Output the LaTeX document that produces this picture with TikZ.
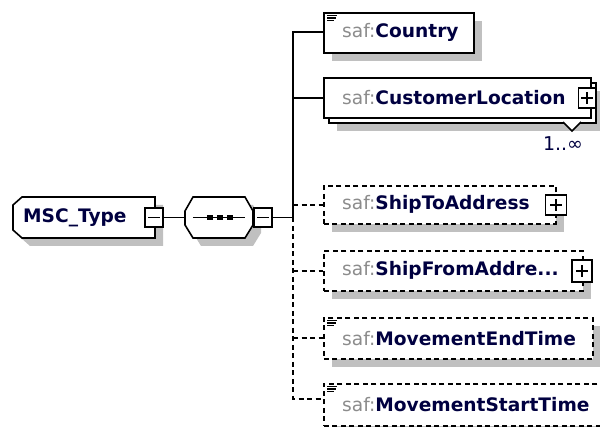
\documentclass[tikz,border=0pt]{standalone}
\usepackage{fontspec}
\setmainfont{DejaVu Sans}
\usetikzlibrary{shadows,calc}
\definecolor{safcol}{RGB}{140,140,140}
\definecolor{namecol}{RGB}{0,0,64}
\definecolor{shadowcol}{RGB}{192,192,192}
\newcommand\eltext[1]{\textcolor{safcol}{saf:}\textcolor{namecol}{\bfseries #1}}
\begin{document}
\begin{tikzpicture}[x=1pt,y=-1pt,
  lw/.style={line width=1.6pt},
  shd/.style={drop shadow={shadow xshift=8pt,shadow yshift=-8pt,fill=shadowcol,opacity=1}},
  elembox/.style={lw,draw=black,fill=white,rectangle,inner sep=0pt,anchor=north west},
  optbox/.style={elembox,dash pattern=on 5pt off 3.5pt},
  lbl/.style={anchor=west,inner sep=0pt,font=\fontsize{18.6}{21}\selectfont},
  pmbox/.style={lw,draw=black,fill=white,rectangle,inner sep=0pt,minimum width=18pt,minimum height=20pt},
  plusbox/.style={pmbox,path picture={\draw[lw] ([xshift=-6pt]path picture bounding box.center) -- ([xshift=6pt]path picture bounding box.center) ([yshift=-6pt]path picture bounding box.center) -- ([yshift=6pt]path picture bounding box.center);}},
  minusbox/.style={pmbox,minimum height=19pt,path picture={\draw[lw] ([xshift=-6pt]path picture bounding box.center) -- ([xshift=6pt]path picture bounding box.center);}},
  conn/.style={lw,draw=black},
  dconn/.style={conn,dash pattern=on 5pt off 3.5pt},
  icon/.style={line width=1.3pt}
]
\useasboundingbox (0,0) rectangle (600,427);
\clip (0,0) rectangle (600,427);

% MSC_Type
\path[lw,draw=black,fill=white,shd] (22,197) -- (155,197) -- (155,238) -- (22,238) -- (13,230) -- (13,205) -- cycle;
\node[lbl] (msc) at (23,217.5) {\textcolor{namecol}{\bfseries MSC\_Type}};
\node[minusbox] (mscm) at (154,217.5) {};

% sequence
\path[lw,draw=black,fill=white,shd] (193,197) -- (245,197) -- (253,211) -- (253,225) -- (245,238) -- (193,238) -- (185,225) -- (185,211) -- cycle;
\node[inner sep=0pt,minimum width=68pt,minimum height=41pt] (seq) at (219,217.5) {};
\draw[lw] ($(seq.west)+(8,0)$) -- ($(seq.east)+(-8,0)$);
\foreach \cx in {210,220,230} \fill (\cx-3,215) rectangle (\cx+3,220.5);
\node[minusbox] (seqm) at (263,217.5) {};

\draw[conn] (mscm.east) -- (seq.west);
\coordinate (trunk) at (293,217.5);
\draw[conn] (seqm.east) -- (trunk);

% Country
\node[elembox,minimum width=150pt,minimum height=40pt,shd] (country) at (323,12) {};
\node[lbl] (countryt) at ($(country.west)+(19,0)$) {\eltext{Country}};
\draw[icon] ($(country.north west)+(4,3.5)$) -- ++(10,0) ($(country.north west)+(4,6)$) -- ++(9,0) ($(country.north west)+(4,8.5)$) -- ++(7,0);

% CustomerLocation
\node[elembox,minimum width=267pt,minimum height=40pt,shd] (custb) at (328,82) {};
\node[elembox,minimum width=267pt,minimum height=40pt] (cust) at (323,77) {};
\node[lbl] (custt) at ($(cust.west)+(19,0)$) {\eltext{CustomerLocation}};
\node[plusbox,minimum width=17pt] (custp) at (587,98) {};
\path[lw,draw=black,fill=white] (563,122) -- (572,131) -- (581,122);
\node[inner sep=0pt,font=\fontsize{19}{21}\selectfont,text=namecol] (custm) at (563,144) {1..∞};

% ShipToAddress
\node[optbox,minimum width=232pt,minimum height=38pt,shd] (shipto) at (323,185) {};
\node[lbl] (shiptot) at ($(shipto.west)+(19,0)$) {\eltext{ShipToAddress}};
\node[plusbox,minimum width=21pt] (shiptop) at (556,205) {};

% ShipFromAddress
\node[optbox,minimum width=259pt,minimum height=40pt,shd] (shipfrom) at (323,250) {};
\node[lbl] (shipfromt) at ($(shipfrom.west)+(19,0)$) {\eltext{ShipFromAddre...}};
\node[plusbox,minimum width=20pt,minimum height=22pt] (shipfromp) at (582,271) {};

% MovementEndTime
\node[optbox,minimum width=269pt,minimum height=41pt,shd] (endt) at (323,317) {};
\node[lbl] (endtt) at ($(endt.west)+(19,0)$) {\eltext{MovementEndTime}};
\draw[icon] ($(endt.north west)+(4,3.5)$) -- ++(10,0) ($(endt.north west)+(4,6)$) -- ++(9,0) ($(endt.north west)+(4,8.5)$) -- ++(7,0);

% MovementStartTime
\node[optbox,minimum width=290pt,minimum height=42pt,shd] (startt) at (323,383) {};
\node[lbl] (starttt) at ($(startt.west)+(19,0)$) {\eltext{MovementStartTime}};
\draw[icon] ($(startt.north west)+(4,3.5)$) -- ++(10,0) ($(startt.north west)+(4,6)$) -- ++(9,0) ($(startt.north west)+(4,8.5)$) -- ++(7,0);

% connectors
\draw[conn] ($(country.west)+(0,-1)$) -| (trunk);
\draw[conn] (cust.west) -- (cust.west -| trunk);
\draw[dconn] (trunk) |- ($(startt.west)+(0,-6)$);
\draw[dconn] (shipto.west -| trunk) -- (shipto.west);
\draw[dconn] (shipfrom.west -| trunk) -- (shipfrom.west);
\draw[dconn] (endt.west -| trunk) -- (endt.west);
\end{tikzpicture}
\end{document}
